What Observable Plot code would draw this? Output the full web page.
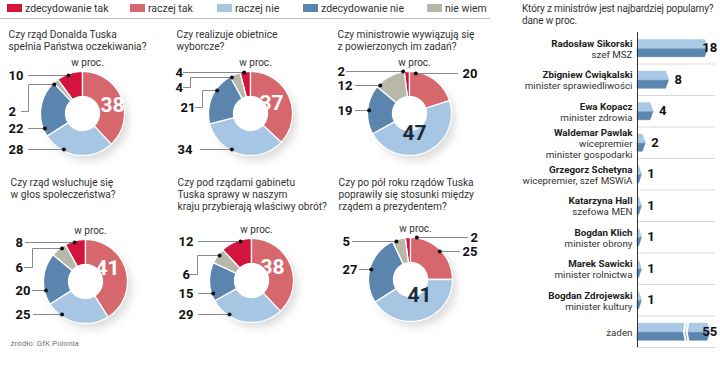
<!DOCTYPE html>
<html><head><meta charset="utf-8">
<script src="https://cdn.jsdelivr.net/npm/d3@7"></script>
<script src="https://cdn.jsdelivr.net/npm/@observablehq/plot@0.6"></script>
<style>
body{margin:0;background:#fff;font-family:Roboto,"Noto Sans",sans-serif;}
#wrap{position:relative;width:720px;height:377px;overflow:hidden;background:#fff}
#wrap svg{position:absolute;top:0;}
.lg{position:absolute;top:2px;font-size:10.5px;color:#333;white-space:nowrap;line-height:14px}
.sw{display:inline-block;width:15px;height:8px;margin-right:3px;vertical-align:0px}
.ht{position:absolute;font-size:10px;letter-spacing:-0.15px;color:#333;white-space:nowrap;line-height:12px}
</style></head>
<body><div id="wrap"></div>
<script>
// ---------- data ----------
const answers = ["zdecydowanie tak", "raczej tak", "raczej nie", "zdecydowanie nie", "nie wiem"];
const answerColors = ["#d3143c", "#d6676c", "#a7c6e3", "#5b85ae", "#b7b8aa"];
const questions = [
  "Czy rząd Donalda Tuska\nspełnia Państwa oczekiwania?",
  "Czy realizuje obietnice\nwyborcze?",
  "Czy ministrowie wywiązują się\nz powierzonych im zadań?",
  "Czy rząd wsłuchuje się\nw głos społeczeństwa?",
  "Czy pod rządami gabinetu\nTuska sprawy w naszym\nkraju przybierają właściwy obrót?",
  "Czy po pół roku rządów Tuska\npoprawiły się stosunki między\nrządem a prezydentem?"
];
// order of values: zdecydowanie tak, raczej tak, raczej nie, zdecydowanie nie, nie wiem
const q1 = [10, 38, 28, 22, 2];
const q2 = [4, 37, 34, 21, 4];
const q3 = [2, 20, 47, 19, 12];
const q4 = [8, 41, 25, 20, 6];
const q5 = [12, 38, 29, 15, 6];
const q6 = [2, 25, 41, 27, 5];
const unitLabel = "w proc.";

const ministerTitle = "Który z ministrów jest najbardziej popularny?";
const ministerSubtitle = "dane w proc.";
const ministerNames = ["Radosław Sikorski", "Zbigniew Ćwiąkalski", "Ewa Kopacz", "Waldemar Pawlak",
  "Grzegorz Schetyna", "Katarzyna Hall", "Bogdan Klich", "Marek Sawicki", "Bogdan Zdrojewski", "żaden"];
const ministerRoles = ["szef MSZ", "minister sprawiedliwości", "minister zdrowia", "wicepremier\nminister gospodarki",
  "wicepremier, szef MSWiA", "szefowa MEN", "minister obrony", "minister rolnictwa", "minister kultury", ""];
const ministerValues = [18, 8, 4, 2, 1, 1, 1, 1, 1, 55];
const sourceText = "źródło: GfK Polonia";

// ---------- layout (positions only) ----------
const series = [q1, q2, q3, q4, q5, q6];
const clockOrder = [1, 2, 3, 4, 0]; // clockwise from 12 o'clock
const R0 = 17, R1 = 42, RD = 40.5;
const panels = [
  {cx: 82, cy: 113, tx: 8, ty: 29, inner: {k: 1, dx: 30, dy: -8, fill: "#fff"},
   labels: [{k: 0, tx: -74, ty: -38, ls: -54}, {k: 4, tx: -74, ty: -2, ls: -61, ex: -54, dy: -29},
            {k: 3, tx: -74, ty: 15, ls: -54}, {k: 2, tx: -74, ty: 36, ls: -54}]},
  {cx: 250, cy: 113, tx: 176, ty: 29, inner: {k: 1, dx: 21, dy: -10, fill: "#fff"},
   labels: [{k: 0, tx: -75, ty: -41, ls: -67}, {k: 4, tx: -75, ty: -26, ls: -67, ex: -60, dy: -36},
            {k: 3, tx: -70, ty: -6, ls: -55, ex: -48, dy: -23}, {k: 2, tx: -73, ty: 36, ls: -50}]},
  {cx: 409, cy: 113, tx: 337, ty: 29, inner: {k: 2, dx: 5, dy: 20, fill: "#1d2b3a"},
   labels: [{k: 0, tx: -72, ty: -42, ls: -63}, {k: 4, tx: -72, ty: -28, ls: -54},
            {k: 3, tx: -72, ty: -3, ls: -54}, {k: 1, tx: 53, ty: -40, ls: 48, side: 1}]},
  {cx: 85, cy: 281, tx: 10, ty: 177, inner: {k: 1, dx: 22, dy: -13, fill: "#fff"},
   labels: [{k: 0, tx: -70, ty: -39, ls: -60}, {k: 4, tx: -70, ty: -14, ls: -61, ex: -53, dy: -33},
            {k: 3, tx: -70, ty: 9, ls: -53}, {k: 2, tx: -70, ty: 33, ls: -52}]},
  {cx: 251, cy: 280, tx: 177, ty: 177, inner: {k: 1, dx: 21, dy: -13, fill: "#fff"},
   labels: [{k: 0, tx: -73, ty: -39, ls: -53}, {k: 4, tx: -69, ty: -6, ls: -62, ex: -54, dy: -25},
            {k: 3, tx: -73, ty: 13, ls: -53}, {k: 2, tx: -73, ty: 34, ls: -53}]},
  {cx: 410, cy: 279, tx: 338, ty: 177, inner: {k: 2, dx: 9, dy: 16, fill: "#1d2b3a"},
   labels: [{k: 4, tx: -68, ty: -38, ls: -58}, {k: 3, tx: -68, ty: -10, ls: -51},
            {k: 0, tx: 60, ty: -42, ls: 57, side: 1}, {k: 1, tx: 52, ty: -28, ls: 49, side: 1}]}
];

const wrap = document.getElementById("wrap");

// ---------- legend ----------
const legendX = [7, 130, 217, 303, 427];
answers.forEach((a, i) => {
  const d = document.createElement("div");
  d.className = "lg";
  d.style.left = legendX[i] + "px";
  d.innerHTML = `<span class="sw" style="background:${answerColors[i]}"></span>${a}`;
  wrap.appendChild(d);
});

// ---------- donuts ----------
const slices = [], leaders = [], dots = [], numTexts = [], innerTexts = [], titles = [], units = [], shadows = [], holes = [];
panels.forEach((p, pi) => {
  const vals = series[pi];
  const arcs = d3.pie().sort(null).value(k => vals[k]).startAngle(0).endAngle(2 * Math.PI)(clockOrder);
  arcs.forEach(a => {
    const k = a.data;
    const id = pi + "-" + k;
    const n = Math.max(2, Math.ceil((a.endAngle - a.startAngle) / 0.03));
    for (let j = 0; j <= n; j++) {
      const t = a.startAngle + (a.endAngle - a.startAngle) * j / n;
      slices.push({id, k, x: p.cx + R1 * Math.sin(t), y: p.cy - R1 * Math.cos(t)});
    }
    for (let j = n; j >= 0; j--) {
      const t = a.startAngle + (a.endAngle - a.startAngle) * j / n;
      slices.push({id, k, x: p.cx + R0 * Math.sin(t), y: p.cy - R0 * Math.cos(t)});
    }
  });
  shadows.push({x: p.cx + 5, y: p.cy + 6});
  holes.push({x: p.cx, y: p.cy});
  titles.push({x: p.tx, y: p.ty, text: questions[pi]});
  units.push({x: p.cx + 5, y: p.cy - 51, text: unitLabel});
  innerTexts.push({x: p.cx + p.inner.dx, y: p.cy + p.inner.dy, text: String(vals[p.inner.k]), fill: p.inner.fill});
  p.labels.forEach((l, li) => {
    const side = l.side || -1;
    const dy = l.dy !== undefined ? l.dy : l.ty;
    const dyc = Math.max(-RD + 0.5, Math.min(RD - 0.5, dy));
    const dx = side * Math.sqrt(RD * RD - dyc * dyc);
    const id = pi + "-" + li;
    numTexts.push({x: p.cx + l.tx, y: p.cy + l.ty, text: String(vals[l.k])});
    const pts = [[l.ls, l.ty]];
    if (l.ex !== undefined) { pts.push([l.ex, l.ty]); pts.push([l.ex, dy]); pts.push([dx, dy]); }
    else pts.push([dx, l.ty]);
    pts.forEach(([x, y]) => leaders.push({id, x: p.cx + x, y: p.cy + y}));
    const last = pts[pts.length - 1];
    dots.push({x: p.cx + last[0], y: p.cy + last[1]});
  });
});

const donutMarks = [
  Plot.dot(shadows, {x: "x", y: "y", r: 41, fill: "#7f7f80", fillOpacity: 0.28}),
  Plot.dot(holes, {x: "x", y: "y", r: R0 + 1, fill: "#fff"})
];
answers.forEach((a, k) => {
  donutMarks.push(Plot.line(slices.filter(d => d.k === k), {x: "x", y: "y", z: "id", curve: "linear-closed",
    fill: answerColors[k], stroke: "#fff", strokeWidth: 1.3}));
});
donutMarks.push(
  Plot.line(leaders, {x: "x", y: "y", z: "id", stroke: "#8a8a8a", strokeWidth: 1}),
  Plot.dot(dots, {x: "x", y: "y", r: 2, fill: "#111"}),
  Plot.text(numTexts, {x: "x", y: "y", text: "text", textAnchor: "start", fontSize: 13, fontWeight: "bold", fill: "#111"}),
  Plot.text(innerTexts, {x: "x", y: "y", text: "text", fontSize: 21, fontWeight: "bold", fill: d => d.fill}),
  Plot.text(titles, {x: "x", y: "y", text: "text", textAnchor: "start", lineAnchor: "top", fontSize: 10.2, lineHeight: 1.18, fill: "#333"}),
  Plot.text(units, {x: "x", y: "y", text: "text", fontSize: 10, fill: "#333"}),
  Plot.ruleY([18], {x1: 0, x2: 490, stroke: "#bdbdbd", strokeWidth: 1}),
  Plot.text([sourceText], {x: 10, y: 343, textAnchor: "start", fontSize: 8, fill: "#777"})
);

const donutPlot = Plot.plot({
  width: 500, height: 377, margin: 0,
  x: {domain: [0, 500], range: [0, 500], axis: null},
  y: {domain: [0, 377], range: [0, 377], axis: null},
  style: {background: "transparent", fontFamily: "Roboto, sans-serif"},
  marks: donutMarks
});
donutPlot.style.left = "0px";
// soft shadow
const ns = "http://www.w3.org/2000/svg";
const defs = document.createElementNS(ns, "defs");
defs.innerHTML = '<filter id="shblur" x="-50%" y="-50%" width="200%" height="200%"><feGaussianBlur stdDeviation="4"/></filter>';
donutPlot.insertBefore(defs, donutPlot.firstChild);
donutPlot.querySelectorAll('g[fill="#7f7f80"]').forEach(g => g.setAttribute("filter", "url(#shblur)"));
wrap.appendChild(donutPlot);

// ---------- ministers bar chart ----------
const BREAK = 19;
const rows = ministerNames.map((n, i) => ({i, name: n, role: ministerRoles[i], v: ministerValues[i],
  dv: ministerValues[i] > BREAK ? 18.6 : ministerValues[i]}));
const h = 0.27, tip = 0.8;
const topFaces = [], botFaces = [];
rows.forEach(r => {
  const c = r.i + 0.5;
  const xe = Math.max(r.dv - tip, 0.3);
  [[0, c], [0, c - h], [xe, c - h], [r.dv, c]].forEach(([x, y]) => topFaces.push({id: r.i, x, y}));
  [[0, c], [r.dv, c], [xe, c + h], [0, c + h]].forEach(([x, y]) => botFaces.push({id: r.i, x, y}));
});
const breaks = [];
rows.filter(r => r.v > BREAK).forEach(r => {
  const c = r.i + 0.5;
  [[12.4, c - h - 0.05], [11.9, c], [12.4, c + h + 0.05]].forEach(([x, y]) => breaks.push({id: "a" + r.i, x, y}));
  [[13.1, c - h - 0.05], [12.6, c], [13.1, c + h + 0.05]].forEach(([x, y]) => breaks.push({id: "b" + r.i, x, y}));
});
const nameLines = [], roleLines = [];
rows.forEach(r => {
  const roles = r.role ? r.role.split("\n") : [];
  const n = 1 + roles.length;
  const step = 0.35;
  const c = r.i + 0.5 + 0.03;
  const first = c - (n - 1) / 2 * step;
  nameLines.push({y: first, text: r.name, bold: roles.length > 0});
  roles.forEach((t, j) => roleLines.push({y: first + (j + 1) * step, text: t}));
});

const barPlot = Plot.plot({
  width: 220, height: 377, marginLeft: 137, marginRight: 5, marginTop: 0, marginBottom: 0,
  x: {domain: [0, 20], range: [137, 215], axis: null},
  y: {domain: [0, 10], range: [32, 347], axis: null},
  style: {background: "transparent", fontFamily: "Roboto, sans-serif"},
  marks: [
    Plot.ruleY(d3.range(1, 11), {x1: 0, x2: 20, stroke: "#d9d9d9", strokeWidth: 1}),
    Plot.line(botFaces, {x: "x", y: "y", z: "id", curve: "linear-closed", fill: "#5b86b0", stroke: "#4f7aa5", strokeWidth: 0.5}),
    Plot.line(topFaces, {x: "x", y: "y", z: "id", curve: "linear-closed", fill: "#a9c9e6", stroke: "#8db4d8", strokeWidth: 0.5}),
    Plot.line(breaks, {x: "x", y: "y", z: "id", stroke: "#fff", strokeWidth: 2}),
    Plot.ruleX([0], {y1: 0, y2: 10, stroke: "#333", strokeWidth: 1}),
    Plot.text(rows, {x: d => Math.min(d.dv + 1.5, 16.6), y: d => d.i + 0.5, text: d => String(d.v), textAnchor: "start",
      fontSize: 13, fontWeight: "bold", fill: "#111"}),
    Plot.text(nameLines.filter(d => d.bold), {x: 0, y: "y", text: "text", dx: -5, textAnchor: "end", fontSize: 9.8,
      fontWeight: "bold", fill: "#222"}),
    Plot.text(nameLines.filter(d => !d.bold), {x: 0, y: "y", text: "text", dx: -5, textAnchor: "end", fontSize: 9.8,
      fontWeight: "normal", fill: "#333"}),
    Plot.text(roleLines, {x: 0, y: "y", text: "text", dx: -5, textAnchor: "end", fontSize: 9.8, fill: "#333"})
  ]
});
barPlot.style.left = "500px";
wrap.appendChild(barPlot);

// bar chart heading
[[ministerTitle, 22, 3], [ministerSubtitle, 22, 15]].forEach(([t, x, y]) => {
  const d = document.createElement("div");
  d.className = "ht";
  d.style.left = (500 + x) + "px";
  d.style.top = y + "px";
  d.textContent = t;
  wrap.appendChild(d);
});
</script></body></html>
